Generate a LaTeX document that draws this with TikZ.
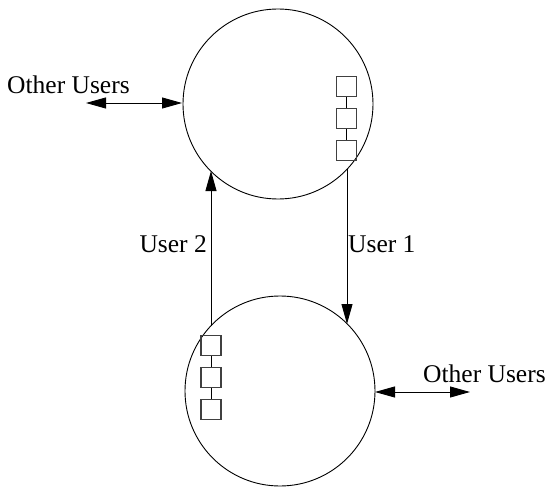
\documentclass[tikz,border=0pt]{standalone}
\usepackage{fontspec}
\setmainfont{Liberation Serif}
\usetikzlibrary{arrows.meta}
\begin{document}
\begin{tikzpicture}[x=1pt,y=-1pt,
  ring/.style={circle,draw,line width=0.9pt,minimum size=190pt,inner sep=0pt},
  queuebox/.style={draw=black!75,line width=1.1pt,minimum size=20pt,inner sep=0pt},
  flow/.style={line width=0.9pt,-{Triangle[length=20pt,width=11pt]}},
  twoway/.style={line width=0.9pt,{Triangle[length=20pt,width=11pt]}-{Triangle[length=20pt,width=11pt]}},
  lbl/.style={font=\fontsize{25.5}{30}\selectfont,inner sep=0pt,anchor=base west}]
\useasboundingbox (0,0) rectangle (552,487);

% the two rings
\node[ring] (top) at (278,104) {};
\node[ring] (bot) at (280,391) {};

% queue of the upper ring
\node[queuebox] (q1) at (346.5,86.5) {};
\node[queuebox] (q2) at (346.5,118.5) {};
\node[queuebox] (q3) at (346.5,150.5) {};
\draw[line width=1pt] (q1) -- (q2) (q2) -- (q3);

% queue of the lower ring
\node[queuebox] (r1) at (211,345.5) {};
\node[queuebox] (r2) at (211,377.5) {};
\node[queuebox] (r3) at (211,409.5) {};
\draw[line width=1pt] (r1) -- (r2) (r2) -- (r3);

% links between the rings
\coordinate (u2s) at (211,326);
\coordinate (u2e) at (211,171);
\coordinate (u1s) at (347,169);
\coordinate (u1e) at (347,324);
\draw[flow] (u2s) -- (u2e);
\draw[flow] (u1s) -- (u1e);
\node[lbl,anchor=base east] (l2) at (207,252) {User 2};
\node[lbl] (l1) at (348,252) {User 1};

% other users
\node[lbl] (o1) at (7,94) {Other Users};
\coordinate (o1a) at (86,103);
\coordinate (o1b) at (182,103);
\draw[twoway] (o1a) -- (o1b);

\node[lbl] (o2) at (423,382) {Other Users};
\coordinate (o2a) at (375,392);
\coordinate (o2b) at (470,392);
\draw[twoway] (o2a) -- (o2b);
\end{tikzpicture}
\end{document}
